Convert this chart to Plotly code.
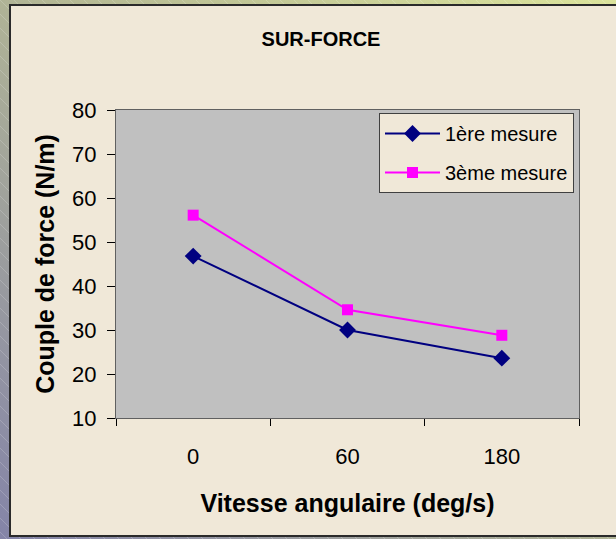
import base64
import plotly.graph_objects as go

categories = ["0", "60", "180"]
mesure1 = [46.8, 30.0, 23.6]
mesure3 = [56.1, 34.6, 28.8]
series_names = ["1ère mesure", "3ème mesure"]
y_ticks = [10, 20, 30, 40, 50, 60, 70, 80]

W, H = 616, 539
ML, MR, MT, MB = 116, 37, 110, 121
PW, PH = W - ML - MR, H - MT - MB

svg = f'''<svg xmlns="http://www.w3.org/2000/svg" width="{W}" height="{H}" viewBox="0 0 {W} {H}">
<defs>
<linearGradient id="g" x1="1" y1="0" x2="0" y2="1">
<stop offset="0" stop-color="#DCE49C"/>
<stop offset="0.45" stop-color="#B4B894"/>
<stop offset="1" stop-color="#8484A8"/>
</linearGradient>
<pattern id="p" width="14" height="14" patternUnits="userSpaceOnUse">
<line x1="0" y1="0" x2="14" y2="14" stroke="#ffffff" stroke-opacity="0.18" stroke-width="1"/>
</pattern>
</defs>
<rect x="0" y="0" width="{W}" height="{H}" fill="url(#g)"/>
<rect x="0" y="0" width="{W}" height="{H}" fill="url(#p)"/>
<rect x="10" y="5" width="{W}" height="531" fill="#F0E8D8" stroke="#2A2A2A" stroke-width="2"/>
</svg>'''
src = "data:image/svg+xml;base64," + base64.b64encode(svg.encode()).decode()

fig = go.Figure()
fig.add_trace(go.Scatter(
    x=categories, y=mesure1, name=series_names[0], mode="lines+markers",
    line=dict(color="#000080", width=2),
    marker=dict(symbol="diamond", size=13, color="#000080"),
    legendgroup="a",
))
fig.add_trace(go.Scatter(
    x=categories, y=mesure3, name=series_names[1], mode="lines+markers",
    line=dict(color="#FF00FF", width=2),
    marker=dict(symbol="square", size=11, color="#FF00FF"),
    legendgroup="b",
))

font = "Liberation Sans, Arial, sans-serif"
fig.update_layout(
    width=W, height=H,
    margin=dict(l=ML, r=MR, t=MT, b=MB, pad=0),
    paper_bgcolor="#F0E8D8",
    plot_bgcolor="rgba(0,0,0,0)",
    font=dict(family=font, color="black"),
    title=dict(text="<b>SUR-FORCE</b>", font=dict(size=20, family=font),
               x=321 / W, xref="container", xanchor="center",
               y=1 - 39 / H, yref="container", yanchor="middle"),
    xaxis=dict(
        type="category", range=[-0.5, 2.5], tickson="boundaries",
        ticks="outside", ticklen=7, tickcolor="black", tickwidth=1,
        showline=True, linecolor="#606060", linewidth=1, mirror=True,
        showgrid=False, zeroline=False, ticklabelstandoff=19,
        tickfont=dict(size=22, family=font),
        title=dict(text="<b>Vitesse angulaire (deg/s)</b>", font=dict(size=25, family=font), standoff=26),
    ),
    yaxis=dict(
        range=[10, 80], tickvals=y_ticks, ticks="outside", ticklen=8,
        tickcolor="black", tickwidth=1,
        showline=True, linecolor="#606060", linewidth=1, mirror=True,
        showgrid=False, zeroline=False, ticklabelstandoff=6,
        tickfont=dict(size=22, family=font),
        title=dict(text="<b>Couple de force (N/m)</b>", font=dict(size=25, family=font), standoff=10),
    ),
    legend=dict(
        x=(379 - ML) / PW, y=1 - (113 - MT) / PH, xanchor="left", yanchor="top",
        bgcolor="#F0E8D8", bordercolor="#404040", borderwidth=1,
        font=dict(size=20, family=font), traceorder="grouped", tracegroupgap=10,
        itemwidth=55,
    ),
    showlegend=True,
    shapes=[dict(type="rect", xref="paper", yref="paper", x0=0, x1=1, y0=0, y1=1,
                 fillcolor="#C0C0C0", line=dict(width=0), layer="below")],
    images=[dict(source=src, xref="paper", yref="paper",
                 x=-ML / PW, y=1 + MT / PH, sizex=W / PW, sizey=H / PH,
                 xanchor="left", yanchor="top", sizing="stretch", layer="below")],
)

fig.write_html("out.html", config={"displayModeBar": False},
               post_script="document.body.style.margin='0';document.body.style.overflow='hidden';")
